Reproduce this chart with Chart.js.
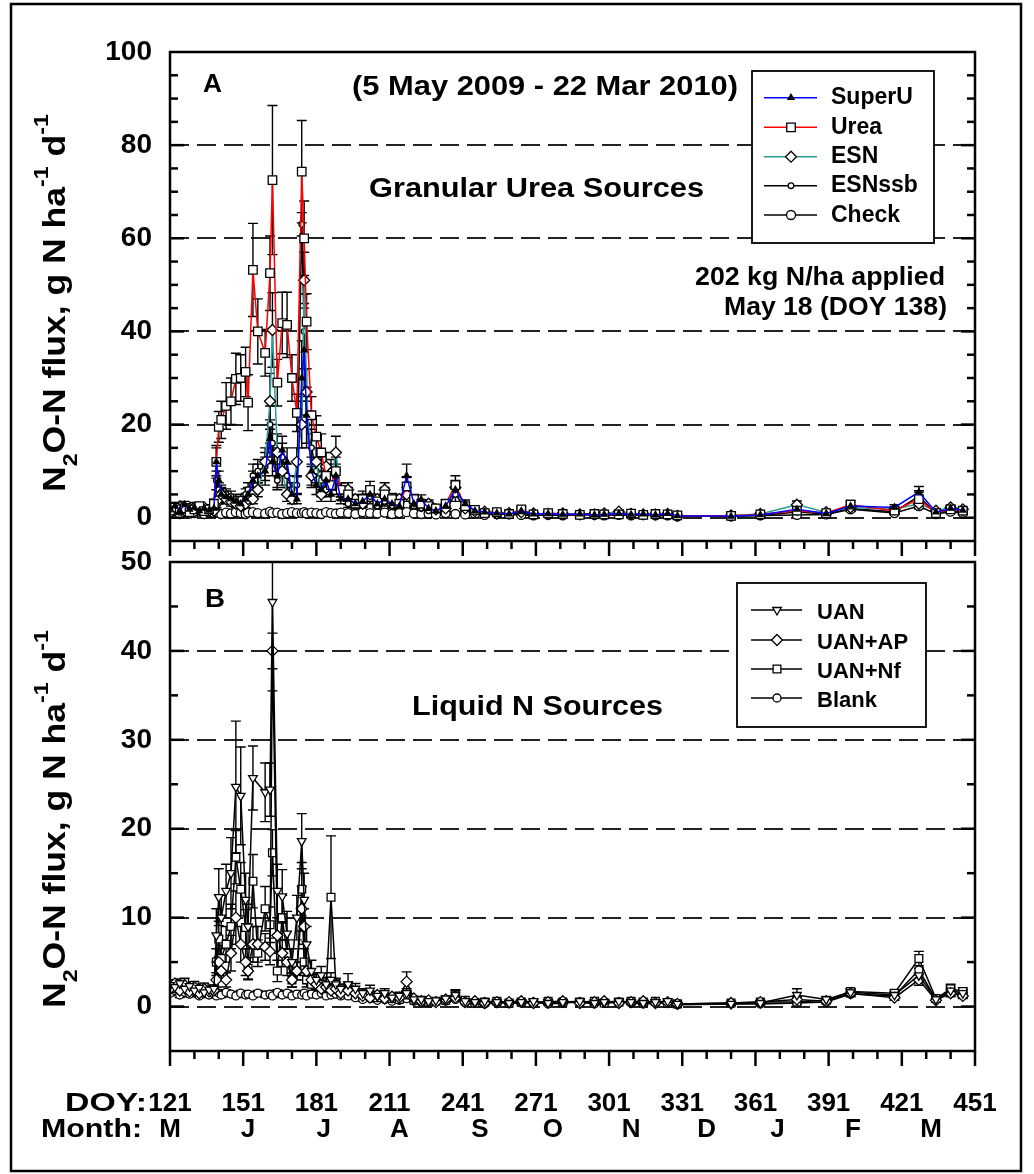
<!DOCTYPE html>
<html>
<head>
<meta charset="utf-8">
<script src="https://cdn.jsdelivr.net/npm/chart.js@4.4.1/dist/chart.umd.min.js"></script>
<style>
  body { margin: 0; background: #fff; }
  #wrap { position: relative; width: 1034px; height: 1174px; background: #fff; }
  canvas { position: absolute; left: 0; top: 0; }
</style>
</head>
<body>
<div id="wrap">
  <canvas id="chartA" width="1034" height="1174"></canvas>
  <canvas id="chartB" width="1034" height="1174"></canvas>
</div>
<script>
const FONT = "'Liberation Sans', Arial, sans-serif";

// sampling days (DOY), shared by both panels
const doy = [121,123,125,127,129,131,133,135,137,
  139,140,141,142,144,146,148,150,152,153,
  155,157,160,162,163,165,167,169,171,173,
  175,176,177,179,181,183,185,187,189,191,
  194,197,200,203,206,209,212,215,218,221,
  224,227,230,234,238,242,246,250,255,260,
  265,270,276,282,289,295,299,305,310,315,
  320,325,329,351,363,378,390,400,418,428,
  435,441,446];

// panel A - granular urea sources (g N/ha/d) and standard errors
const superU = [2.0,2.5,1.5,2.8,1.8,2.2,1.5,2.0,1.6,
  2.0,12.0,8.0,5.0,4.5,4.0,3.5,3.0,4.0,5.0,
  8.0,9.0,10.0,17.0,12.0,9.0,14.5,12.0,5.0,4.0,
  30.0,36.0,22.0,10.0,7.0,6.0,8.0,5.0,9.0,4.0,
  4.0,3.0,3.5,5.0,3.0,4.0,3.0,2.5,9.0,3.0,
  3.9,2.0,1.5,2.5,6.0,3.0,1.5,1.2,1.0,0.8,
  1.5,0.8,0.9,0.7,0.8,0.6,0.7,0.9,0.7,0.8,
  0.6,0.9,0.4,0.3,0.6,1.8,0.9,2.5,2.2,5.5,
  1.2,2.0,1.6];
const superUErr = [0.5,0.8,0.4,0.7,0.5,0.6,0.4,0.5,0.4,
  0.5,3.0,2.0,1.5,1.2,1.0,1.0,0.8,1.2,1.5,
  2.0,2.5,3.0,4.0,3.0,2.5,3.0,3.0,1.5,1.0,
  8.0,10.0,6.0,3.0,2.0,1.5,2.0,1.5,2.5,1.0,
  1.2,0.8,1.0,1.5,0.8,1.2,0.8,0.7,2.5,0.8,
  1.0,0.5,0.4,0.6,1.5,0.8,0.4,0.3,0.3,0.2,
  0.4,0.2,0.2,0.2,0.2,0.2,0.2,0.2,0.2,0.2,
  0.2,0.2,0.1,0.1,0.2,1.0,0.3,0.8,0.6,1.2,
  0.3,0.5,0.4];
const urea = [1.5,2.2,1.8,2.0,1.2,1.8,2.5,1.4,1.8,
  3.0,12.0,19.5,21.0,24.0,25.0,29.8,30.0,31.3,24.7,
  53.2,40.0,35.4,52.5,72.5,29.0,41.8,41.4,30.0,22.5,
  74.3,60.0,42.1,22.0,17.4,14.0,9.0,7.0,10.0,6.0,
  5.0,3.0,4.0,6.0,3.5,5.0,4.0,3.0,6.7,4.0,
  3.0,2.5,2.0,3.0,7.0,2.5,1.7,1.0,1.2,0.8,
  1.8,0.7,1.0,0.8,0.6,0.8,0.7,0.7,0.9,0.6,
  0.8,0.7,0.5,0.4,0.7,1.5,1.0,2.8,1.5,4.0,
  1.0,1.8,1.5];
const ureaErr = [0.5,0.6,0.5,0.6,0.4,0.5,0.7,0.4,0.5,
  1.0,3.5,3.3,4.0,5.0,5.0,5.5,5.0,5.3,6.0,
  10.0,7.0,5.0,8.0,16.0,5.0,6.6,7.0,5.0,4.0,
  11.0,8.0,6.0,4.0,4.5,4.0,2.5,2.0,3.0,1.5,
  1.5,0.8,1.0,1.8,1.0,1.5,1.2,0.8,2.0,1.0,
  0.8,0.7,0.5,0.8,2.0,0.7,0.5,0.3,0.3,0.2,
  0.5,0.2,0.3,0.2,0.2,0.2,0.2,0.2,0.2,0.2,
  0.2,0.2,0.1,0.1,0.2,0.5,0.3,0.9,0.5,1.5,
  0.3,0.5,0.4];
const esn = [2.2,1.6,2.4,1.5,2.0,1.3,1.8,2.2,1.5,
  1.5,3.0,4.0,5.0,4.0,3.5,3.0,2.5,3.0,4.0,
  4.0,6.0,12.0,25.0,40.3,14.0,10.0,5.0,4.0,12.0,
  20.0,51.0,27.0,9.0,12.0,5.0,11.0,8.0,14.0,6.0,
  6.0,4.0,3.0,5.0,4.0,6.0,3.0,4.0,5.0,3.5,
  2.5,3.0,1.8,2.0,6.5,2.0,1.4,1.3,0.9,1.0,
  1.2,0.9,0.8,0.9,0.7,0.7,0.9,1.3,0.8,0.7,
  0.7,0.8,0.4,0.5,0.8,2.8,1.2,2.2,1.8,3.0,
  1.5,2.2,1.8];
const esnErr = [0.6,0.4,0.7,0.4,0.5,0.3,0.5,0.6,0.4,
  0.4,0.8,1.0,1.3,1.0,1.0,0.8,0.7,0.8,1.0,
  1.0,1.5,3.0,6.0,8.0,4.0,3.0,1.5,1.0,3.0,
  5.0,6.0,5.0,2.5,3.0,1.5,3.0,2.0,3.5,1.5,
  1.5,1.0,0.8,1.5,1.0,1.5,0.8,1.0,1.5,1.0,
  0.7,0.8,0.5,0.6,1.5,0.6,0.4,0.3,0.3,0.3,
  0.3,0.2,0.2,0.2,0.2,0.2,0.2,0.3,0.2,0.2,
  0.2,0.2,0.1,0.1,0.2,0.8,0.3,0.6,0.5,1.0,
  0.4,0.5,0.4];
const esnssb = [1.8,2.0,1.2,2.4,1.5,2.6,1.2,1.7,2.0,
  2.0,8.0,6.0,5.5,5.0,4.5,4.0,4.0,5.0,6.0,
  9.0,10.0,11.0,20.0,16.0,8.0,13.0,9.0,6.0,7.0,
  63.0,40.0,20.0,15.0,10.0,8.0,6.0,10.0,8.0,5.0,
  3.0,2.5,4.5,4.0,2.5,3.5,2.5,3.0,7.0,2.5,
  2.0,1.5,2.2,1.8,5.0,2.2,1.2,1.0,1.1,0.9,
  1.0,0.6,0.7,0.6,0.8,0.9,0.6,0.8,0.6,0.9,
  0.5,0.6,0.3,0.4,0.5,1.2,0.8,2.0,1.3,4.6,
  0.9,1.6,1.2];
const esnssbErr = [0.5,0.5,0.3,0.6,0.4,0.7,0.3,0.4,0.5,
  0.5,2.0,1.5,1.5,1.2,1.2,1.0,1.0,1.2,1.5,
  2.5,2.5,3.0,4.0,4.0,2.0,3.0,2.5,1.5,1.8,
  2.5,8.0,5.0,4.0,2.5,2.0,1.5,2.5,2.0,1.2,
  0.8,0.6,1.2,1.0,0.6,1.0,0.6,0.8,1.8,0.6,
  0.5,0.4,0.6,0.5,1.5,0.6,0.3,0.3,0.3,0.2,
  0.3,0.2,0.2,0.2,0.2,0.2,0.2,0.2,0.2,0.2,
  0.1,0.2,0.1,0.1,0.1,0.4,0.2,0.6,0.4,1.2,
  0.3,0.4,0.3];
const check = [1.0,1.4,0.8,1.2,0.9,1.0,1.3,0.8,1.1,
  1.0,1.2,1.0,0.8,1.1,0.9,1.2,1.0,0.8,1.1,
  1.2,1.0,0.9,1.3,1.0,1.1,0.8,1.0,1.2,1.0,
  1.0,1.2,0.9,1.1,1.0,0.8,1.2,1.0,0.9,1.1,
  1.0,0.8,1.2,1.0,0.9,1.1,0.8,1.0,1.2,0.9,
  0.8,0.9,0.7,1.0,0.8,0.7,0.9,0.6,0.8,0.7,
  0.6,0.5,0.6,0.5,0.6,0.6,0.5,0.6,0.5,0.6,
  0.5,0.5,0.3,0.3,0.5,0.6,0.7,1.8,1.0,2.5,
  0.8,1.3,1.0];
const checkErr = [0.3,0.4,0.2,0.3,0.2,0.3,0.4,0.2,0.3,
  0.3,0.3,0.3,0.2,0.3,0.2,0.3,0.3,0.2,0.3,
  0.3,0.3,0.2,0.4,0.3,0.3,0.2,0.3,0.3,0.3,
  0.3,0.3,0.2,0.3,0.3,0.2,0.3,0.3,0.2,0.3,
  0.3,0.2,0.3,0.3,0.2,0.3,0.2,0.3,0.3,0.2,
  0.2,0.2,0.2,0.3,0.2,0.2,0.2,0.2,0.2,0.2,
  0.2,0.1,0.2,0.1,0.2,0.2,0.1,0.2,0.1,0.2,
  0.1,0.1,0.1,0.1,0.1,0.2,0.2,0.5,0.3,0.6,
  0.2,0.3,0.3];

// panel B - liquid N sources
const uan = [2.4,2.2,2.6,2.0,2.3,1.8,2.1,1.6,1.9,
  2.0,8.0,12.3,10.0,13.0,15.0,24.7,23.7,12.0,9.0,
  25.7,null,24.1,24.4,45.5,13.0,12.4,8.2,5.0,10.0,
  18.6,12.0,7.0,4.0,3.0,3.5,2.5,3.0,2.5,2.0,
  2.5,2.0,1.5,1.8,1.2,1.5,1.0,1.2,1.5,0.8,
  0.8,0.6,0.7,0.9,1.3,0.6,0.5,0.6,0.5,0.4,
  0.5,0.6,0.4,0.5,0.6,0.4,0.5,0.6,0.5,0.4,
  0.5,0.6,0.3,0.3,0.4,1.3,0.8,1.6,1.3,3.5,
  0.8,1.8,1.5];
const uanErr = [0.4,0.3,0.5,0.3,0.4,0.3,0.3,0.3,0.3,
  0.4,3.0,3.2,2.5,3.0,4.0,7.4,5.5,3.0,2.5,
  3.6,null,3.3,3.0,10.0,3.0,3.0,2.5,1.5,2.5,
  3.1,3.0,2.0,1.2,0.8,1.0,0.8,0.8,0.6,0.5,
  1.2,0.6,0.5,0.6,0.4,0.5,0.3,0.4,0.5,0.3,
  0.3,0.2,0.2,0.3,0.6,0.2,0.2,0.2,0.2,0.1,
  0.2,0.2,0.1,0.2,0.2,0.1,0.2,0.2,0.2,0.1,
  0.2,0.2,0.1,0.1,0.1,0.7,0.3,0.4,0.4,0.8,
  0.3,0.5,0.4];
const uanAP = [2.0,2.6,1.8,2.4,1.7,2.2,1.5,2.0,1.7,
  1.8,3.0,5.0,4.0,3.0,6.0,10.0,7.0,5.0,4.0,
  7.0,7.0,6.7,6.2,40.0,8.0,6.0,5.0,3.0,4.0,
  11.0,9.0,4.0,3.0,2.5,2.0,2.2,1.8,2.0,1.5,
  1.8,1.5,1.2,1.0,1.3,0.9,1.1,1.0,2.8,0.9,
  0.6,0.7,0.5,0.8,1.0,0.5,0.6,0.4,0.5,0.5,
  0.6,0.4,0.5,0.6,0.4,0.5,0.6,0.4,0.5,0.6,
  0.4,0.5,0.3,0.4,0.5,0.8,0.6,1.5,1.0,3.0,
  0.7,1.5,1.2];
const uanAPErr = [0.3,0.4,0.3,0.4,0.3,0.3,0.3,0.3,0.3,
  0.3,0.8,1.5,1.0,0.8,2.0,3.0,2.0,1.5,1.0,
  2.0,2.0,1.5,1.5,2.0,2.0,1.5,1.5,0.8,1.0,
  2.5,2.0,1.0,0.8,0.6,0.5,0.5,0.5,0.5,0.4,
  0.5,0.4,0.3,0.3,0.4,0.2,0.3,0.3,1.1,0.2,
  0.2,0.2,0.1,0.2,0.3,0.1,0.2,0.1,0.1,0.1,
  0.2,0.1,0.1,0.2,0.1,0.1,0.2,0.1,0.1,0.2,
  0.1,0.1,0.1,0.1,0.1,0.3,0.2,0.3,0.3,0.6,
  0.2,0.4,0.3];
const uanNf = [2.6,2.0,2.3,2.7,1.9,2.4,2.0,2.2,1.8,
  2.0,5.0,7.6,5.4,7.0,9.0,16.8,13.2,8.9,4.3,
  14.1,6.0,11.0,9.2,17.3,4.0,10.0,6.0,3.0,4.0,
  13.2,5.0,3.0,2.5,2.8,2.5,2.0,12.3,2.5,2.0,
  2.2,1.6,1.4,1.3,1.0,1.2,0.9,0.8,1.3,0.7,
  0.7,0.5,0.6,0.7,1.2,0.7,0.4,0.5,0.6,0.4,
  0.5,0.4,0.6,0.5,0.5,0.6,0.4,0.5,0.6,0.5,
  0.6,0.4,0.3,0.4,0.5,0.5,0.7,1.7,1.5,5.4,
  0.9,2.0,1.7];
const uanNfErr = [0.4,0.3,0.4,0.5,0.3,0.4,0.3,0.4,0.3,
  0.4,1.5,2.0,1.5,2.0,2.5,3.0,3.0,2.0,1.2,
  3.0,1.5,2.5,2.0,2.6,1.2,2.5,1.5,0.8,1.0,
  3.0,1.5,0.8,0.7,0.8,0.7,0.6,6.9,0.7,0.5,
  0.6,0.4,0.4,0.3,0.3,0.3,0.2,0.2,0.4,0.2,
  0.2,0.1,0.2,0.2,0.6,0.2,0.1,0.1,0.2,0.1,
  0.1,0.1,0.2,0.1,0.1,0.2,0.1,0.1,0.2,0.1,
  0.2,0.1,0.1,0.1,0.1,0.2,0.2,0.3,0.4,0.8,
  0.3,0.5,0.4];
const blank = [1.5,1.8,1.3,1.6,1.4,1.7,1.2,1.5,1.3,
  1.4,1.2,1.5,1.3,1.6,1.4,1.2,1.5,1.3,1.4,
  1.2,1.5,1.3,1.4,1.2,1.6,1.3,1.5,1.2,1.4,
  1.3,1.5,1.2,1.4,1.3,1.5,1.2,1.3,1.4,1.2,
  1.2,1.0,0.8,0.9,0.7,0.8,0.6,0.7,0.9,0.6,
  0.5,0.4,0.5,0.6,0.8,0.4,0.5,0.3,0.4,0.4,
  0.4,0.5,0.3,0.4,0.5,0.3,0.4,0.5,0.4,0.3,
  0.4,0.4,0.2,0.3,0.3,0.4,0.5,1.4,1.2,4.1,
  0.8,1.6,1.3];
const blankErr = [0.3,0.4,0.3,0.3,0.3,0.4,0.2,0.3,0.3,
  0.3,0.2,0.3,0.3,0.3,0.3,0.2,0.3,0.3,0.3,
  0.2,0.3,0.3,0.3,0.2,0.3,0.3,0.3,0.2,0.3,
  0.3,0.3,0.2,0.3,0.3,0.3,0.2,0.3,0.3,0.2,
  0.3,0.2,0.2,0.2,0.2,0.2,0.1,0.2,0.2,0.1,
  0.1,0.1,0.1,0.1,0.2,0.1,0.1,0.1,0.1,0.1,
  0.1,0.1,0.1,0.1,0.1,0.1,0.1,0.1,0.1,0.1,
  0.1,0.1,0.1,0.1,0.1,0.1,0.1,0.3,0.2,0.5,
  0.2,0.3,0.3];

// axis labels
const xTicks = [121,151,181,211,241,271,301,331,361,391,421,451];
const yTicksA = [0,20,40,60,80,100];
const yTicksB = [0,10,20,30,40,50];
const monthLabels = ['M','J','J','A','S','O','N','D','J','F','M'];
const monthDoy = [121,153,184,215,248,278,310,341,370,401,433];

function pts(vals) {
  return doy.map((d, i) => ({ x: d, y: vals[i] }));
}

function series(label, vals, errs, color, style, radius, fill, rot) {
  return {
    label: label, data: pts(vals), errors: errs,
    borderColor: color, borderWidth: 1.5, tension: 0, spanGaps: true,
    pointStyle: style, pointRadius: radius, pointHoverRadius: radius,
    pointRotation: rot || 0, pointBackgroundColor: fill,
    pointBorderColor: '#000', pointBorderWidth: 1.3
  };
}

function line(ctx, x1, y1, x2, y2) {
  ctx.beginPath(); ctx.moveTo(x1, y1); ctx.lineTo(x2, y2); ctx.stroke();
}

// legend marker, same shapes as chart.js point styles
function marker(ctx, style, x, y, r, fill, rot) {
  ctx.beginPath();
  if (style === 'rect') {
    const s = r * Math.SQRT1_2;
    ctx.rect(x - s, y - s, 2 * s, 2 * s);
  } else if (style === 'rectRot') {
    ctx.moveTo(x, y - r); ctx.lineTo(x + r, y); ctx.lineTo(x, y + r); ctx.lineTo(x - r, y);
    ctx.closePath();
  } else if (style === 'triangle') {
    let a = (rot || 0) * Math.PI / 180;
    ctx.moveTo(x + Math.sin(a) * r, y - Math.cos(a) * r);
    a += 2 * Math.PI / 3;
    ctx.lineTo(x + Math.sin(a) * r, y - Math.cos(a) * r);
    a += 2 * Math.PI / 3;
    ctx.lineTo(x + Math.sin(a) * r, y - Math.cos(a) * r);
    ctx.closePath();
  } else {
    ctx.arc(x, y, r, 0, Math.PI * 2);
  }
  ctx.fillStyle = fill; ctx.fill();
  ctx.strokeStyle = '#000'; ctx.lineWidth = 1.3; ctx.stroke();
}

// text squeezed/stretched to a given width
function fitText(ctx, text, x, y, w, align) {
  const m = ctx.measureText(text).width;
  ctx.save();
  ctx.translate(x, y);
  ctx.scale(w / m, 1);
  ctx.textAlign = align || 'left';
  ctx.textBaseline = 'alphabetic';
  ctx.fillText(text, 0, 0);
  ctx.restore();
}

function yTitle(ctx, x, y, len) {
  const parts = [['N', 0], ['2', 1], ['O-N flux, g N ha', 0], ['-1', 2], [' d', 0], ['-1', 2]];
  const big = 'bold 32px ' + FONT, small = 'bold 21px ' + FONT;
  let total = 0;
  parts.forEach(p => { ctx.font = p[1] ? small : big; total += ctx.measureText(p[0]).width; });
  ctx.save();
  ctx.translate(x, y);
  ctx.rotate(-Math.PI / 2);
  ctx.scale(len / total, 1);
  ctx.textAlign = 'left'; ctx.textBaseline = 'alphabetic'; ctx.fillStyle = '#000';
  let cx = 0;
  parts.forEach(p => {
    ctx.font = p[1] ? small : big;
    const dy = p[1] === 1 ? 12 : (p[1] === 2 ? -17 : 0);
    ctx.fillText(p[0], cx, dy);
    cx += ctx.measureText(p[0]).width;
  });
  ctx.restore();
}

const decor = {
  id: 'decor',
  beforeDatasetsDraw(chart) {
    // error bars
    const ctx = chart.ctx, ys = chart.scales.y, a = chart.chartArea;
    ctx.save();
    ctx.beginPath(); ctx.rect(a.left, a.top, a.right - a.left, a.bottom - a.top); ctx.clip();
    ctx.strokeStyle = '#000'; ctx.lineWidth = 1.4;
    chart.data.datasets.forEach((ds, i) => {
      chart.getDatasetMeta(i).data.forEach((pt, j) => {
        const v = ds.data[j].y, e = ds.errors[j];
        if (v == null || e == null) return;
        const yt = ys.getPixelForValue(v + e), yb = ys.getPixelForValue(v - e);
        ctx.beginPath();
        ctx.moveTo(pt.x, yt); ctx.lineTo(pt.x, yb);
        ctx.moveTo(pt.x - 5, yt); ctx.lineTo(pt.x + 5, yt);
        ctx.moveTo(pt.x - 5, yb); ctx.lineTo(pt.x + 5, yb);
        ctx.stroke();
      });
    });
    ctx.restore();
  },
  afterDraw(chart, args, o) {
    const ctx = chart.ctx, a = chart.chartArea, xs = chart.scales.x, ys = chart.scales.y;
    ctx.save();
    ctx.strokeStyle = '#000'; ctx.fillStyle = '#000';

    // frame and ticks
    ctx.lineWidth = 2.5;
    ctx.strokeRect(a.left, a.top, a.right - a.left, a.bottom - a.top);
    for (let v = ys.min + o.minor; v < ys.max; v += o.minor) {
      const py = ys.getPixelForValue(v);
      const len = v % o.major === 0 ? 14 : 8;
      line(ctx, a.left, py, a.left + len, py);
      line(ctx, a.right - len, py, a.right, py);
    }
    for (let d = xs.min; d <= xs.max; d += 10) {
      const px = xs.getPixelForValue(d);
      line(ctx, px, a.bottom, px, a.bottom + ((d - xs.min) % 30 === 0 ? 15 : 8));
    }

    // legend box
    const L = o.legend;
    ctx.fillStyle = '#fff';
    ctx.fillRect(L.x, L.y, L.w, L.h);
    ctx.lineWidth = 1.8; ctx.strokeStyle = '#000';
    ctx.strokeRect(L.x, L.y, L.w, L.h);
    chart.data.datasets.forEach((ds, i) => {
      const ry = L.rows[i];
      ctx.strokeStyle = ds.borderColor; ctx.lineWidth = 1.5;
      line(ctx, L.x1, ry, L.x2, ry);
      marker(ctx, ds.pointStyle, L.mx, ry, ds.pointRadius, ds.pointBackgroundColor, ds.pointRotation);
      ctx.fillStyle = '#000';
      ctx.font = 'bold ' + L.size + 'px ' + FONT;
      ctx.textAlign = 'left'; ctx.textBaseline = 'alphabetic';
      ctx.fillText(ds.label, L.tx, ry + L.dy);
    });

    // panel texts
    ctx.fillStyle = '#000';
    o.texts.forEach(t => {
      ctx.font = 'bold ' + t.size + 'px ' + FONT;
      fitText(ctx, t.t, t.x, t.y, t.w, t.align);
    });
    yTitle(ctx, 65, o.titleY, 378);

    if (o.bottomLabels) {
      ctx.font = 'bold 26px ' + FONT;
      fitText(ctx, 'DOY:', 147, 1111, 82, 'right');
      fitText(ctx, 'Month:', 41, 1137, 101, 'left');
      monthLabels.forEach((m, i) => {
        ctx.textAlign = 'center';
        ctx.fillText(m, xs.getPixelForValue(monthDoy[i]), 1137);
      });
      ctx.lineWidth = 2.5; ctx.strokeStyle = '#000';
      ctx.strokeRect(11, 4, 1010, 1167);
    }
    ctx.restore();
  }
};

function yAxis(min, max, ticks) {
  return {
    type: 'linear', min: min, max: max,
    afterBuildTicks: s => { s.ticks = ticks.map(v => ({ value: v })); },
    afterFit: s => { s.width = 100; },
    ticks: { font: { size: 28, weight: 'bold' }, color: '#000', padding: 18 },
    grid: {
      drawTicks: false, lineWidth: 2,
      color: c => (c.tick && c.tick.value < max) ? '#222' : 'rgba(0,0,0,0)'
    },
    border: { display: false, dash: [19, 8] }
  };
}

function makeChart(id, datasets, yScale, xScale, padding, decorOpts) {
  return new Chart(document.getElementById(id), {
    type: 'line',
    data: { datasets: datasets },
    options: {
      responsive: false, animation: false, devicePixelRatio: 1, events: [],
      layout: { padding: padding },
      scales: { x: xScale, y: yScale },
      plugins: { legend: { display: false }, tooltip: { enabled: false }, decor: decorOpts }
    },
    plugins: [decor]
  });
}

const chartA = makeChart('chartA', [
    series('SuperU', superU, superUErr, '#0000ff', 'triangle', 3.5, '#000'),
    series('Urea', urea, ureaErr, '#ff0000', 'rect', 6, '#fff'),
    series('ESN', esn, esnErr, '#2e9c96', 'rectRot', 5.5, '#fff'),
    series('ESNssb', esnssb, esnssbErr, '#000', 'circle', 2.8, '#fff'),
    series('Check', check, checkErr, '#000', 'circle', 4.5, '#fff')
  ],
  yAxis(-5, 100, yTicksA),
  { type: 'linear', min: 121, max: 451, display: false },
  { left: 70, right: 59, top: 52, bottom: 633 },
  {
    minor: 5, major: 20, titleY: 492,
    legend: { x: 752, y: 71, w: 182, h: 172, x1: 764, x2: 817, mx: 791, tx: 831,
      rows: [97.7, 127.3, 156.7, 185.7, 215], dy: 6.5, size: 23 },
    texts: [
      { t: 'A', x: 203, y: 92, w: 19, size: 25 },
      { t: '(5 May 2009 - 22 Mar 2010)', x: 352, y: 95, w: 386, size: 28 },
      { t: 'Granular Urea Sources', x: 369, y: 197, w: 335, size: 28 },
      { t: '202 kg N/ha applied', x: 945, y: 285, w: 250, size: 26, align: 'right' },
      { t: 'May 18 (DOY 138)', x: 947, y: 315, w: 223, size: 26, align: 'right' }
    ]
  });

const chartB = makeChart('chartB', [
    series('UAN', uan, uanErr, '#000', 'triangle', 5, '#fff', 180),
    series('UAN+AP', uanAP, uanAPErr, '#000', 'rectRot', 5.5, '#fff'),
    series('UAN+Nf', uanNf, uanNfErr, '#000', 'rect', 5.5, '#fff'),
    series('Blank', blank, blankErr, '#000', 'circle', 4, '#fff')
  ],
  yAxis(-5, 50, yTicksB),
  {
    type: 'linear', min: 121, max: 451,
    afterBuildTicks: s => { s.ticks = xTicks.map(v => ({ value: v })); },
    afterFit: s => { s.height = 80; },
    ticks: { font: { size: 26, weight: 'bold' }, color: '#000', padding: 29, maxRotation: 0, autoSkip: false },
    grid: { display: false },
    border: { display: false }
  },
  { left: 70, right: 59, top: 562, bottom: 43 },
  {
    minor: 5, major: 10, titleY: 1008, bottomLabels: true,
    legend: { x: 737, y: 583, w: 189, h: 144, x1: 751, x2: 802, mx: 777, tx: 817,
      rows: [610, 640, 669, 698], dy: 8.5, size: 22 },
    texts: [
      { t: 'B', x: 205, y: 607, w: 20, size: 25 },
      { t: 'Liquid N Sources', x: 412, y: 715, w: 251, size: 28 }
    ]
  });
</script>
</body>
</html>
